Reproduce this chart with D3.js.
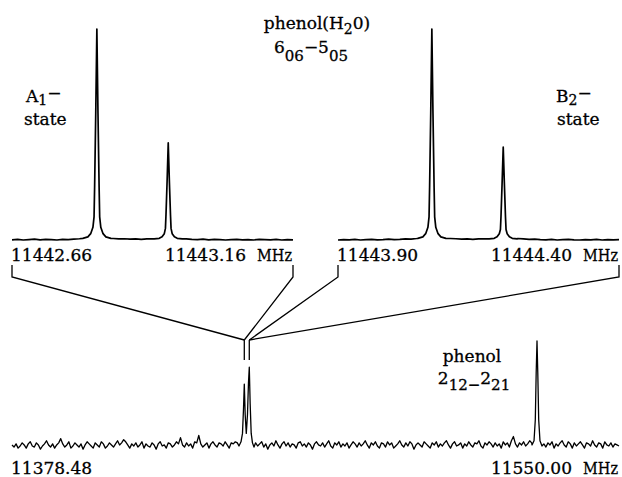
<!DOCTYPE html>
<html lang="en">
<head>
    <meta charset="UTF-8">
    <title>phenol(H2O) 6_06-5_05 spectrum</title>
    <script src="https://cdn.jsdelivr.net/npm/d3@7"></script>
    <style>
        body { margin: 0; background: #fff; }
        svg text { font-family: "DejaVu Serif", serif; font-size: 17px; fill: #000; stroke: #000; stroke-width: 0.3px; }
    </style>
</head>
<body>
    <div id="container"></div>

    <script>
        // --- data (intensity in arbitrary units, tallest line = 100) ---

        // top-left zoom: A1 state
        const a1Range = [11442.66, 11443.16]
        const a1Base = [0.1, 0.3, 0.0, 0.2, 0.4, 0.1, 0.3, 0.2, 0.0, 0.3,
            0.2, 0.4, 0.6, 0.9, 1.0, 1.0, 1.0, 0.9, 0.7, 0.5,
            0.6, 0.4, 0.5, 0.3, 0.5, 0.6, 0.8, 0.9, 0.9, 0.8,
            0.7, 0.5, 0.3, 0.2, 0.4, 0.1, 0.3, 0.2, 0.0, 0.2,
            0.3, 0.1, 0.2, 0.0, 0.3, 0.2, 0.1, 0.3, 0.0, 0.2, 0.1]
        const a1Strong = [[11442.786, 0.8], [11442.795, 1.5], [11442.800, 3], [11442.804, 6], [11442.806, 11],
            [11442.807, 25], [11442.809, 60], [11442.811, 100], [11442.813, 60], [11442.815, 25],
            [11442.816, 11], [11442.818, 6], [11442.822, 3], [11442.827, 1.5], [11442.836, 0.8]]
        const a1Weak = [[11442.913, 0.5], [11442.922, 0.8], [11442.927, 1.5], [11442.931, 3], [11442.933, 5.5],
            [11442.934, 12], [11442.936, 28], [11442.938, 46], [11442.940, 28], [11442.942, 12],
            [11442.943, 5.5], [11442.945, 3], [11442.949, 1.5], [11442.954, 0.8], [11442.963, 0.5]]

        // top-right zoom: B2 state
        const b2Range = [11443.90, 11444.40]
        const b2Base = [0.0, 0.2, 0.1, 0.3, 0.0, 0.2, 0.3, 0.1, 0.2, 0.4,
            0.2, 0.3, 0.5, 0.4, 0.7, 1.0, 1.0, 1.0, 1.0, 1.0,
            0.7, 0.6, 0.4, 0.5, 0.3, 0.5, 0.6, 0.8, 1.0, 1.0,
            1.0, 1.0, 0.7, 0.5, 0.3, 0.4, 0.2, 0.1, 0.3, 0.0,
            0.2, 0.3, 0.1, 0.0, 0.2, 0.1, 0.3, 0.0, 0.2, 0.1, 0.2]
        const b2Strong = [[11444.042, 0.8], [11444.051, 1.5], [11444.056, 3], [11444.060, 6], [11444.062, 11],
            [11444.063, 25], [11444.065, 60], [11444.067, 100], [11444.069, 60], [11444.071, 25],
            [11444.072, 11], [11444.074, 6], [11444.078, 3], [11444.083, 1.5], [11444.092, 0.8]]
        const b2Weak = [[11444.169, 0.5], [11444.178, 0.8], [11444.183, 1.5], [11444.187, 3], [11444.189, 5],
            [11444.190, 11], [11444.192, 27], [11444.194, 44], [11444.196, 27], [11444.198, 11],
            [11444.199, 5], [11444.201, 3], [11444.205, 1.5], [11444.210, 0.8], [11444.219, 0.5]]

        // bottom survey scan
        const surveyRange = [11378.48, 11550.00]
        const surveyNoise = [
            1, -1, 2, -2, 0, 3, 1, -2, 2, 4, 0, -1, 3, 1, -3, 0, 2, 5, 1, -1,
            2, -2, 1, 3, 7, 2, -1, 1, 4, -2, 0, 3, 1, -1, 2, -3, 1, 4, 2, 0,
            -2, 3, 1, -1, 4, 2, -2, 0, 3, 1, -1, 2, 5, 1, 3, 6, 4, 1, -2, 2,
            0, 3, -1, 1, 4, -2, 2, 0, -1, 3, 1, -3, 2, 4, 0, 1, -2, 3, 2, -1,
            1, 4, 2, 8, 1, -1, 3, 0, 2, -2, 4, 3, 10, 2, -1, 1, 3, -2, 2, 4,
            1, -1, 3, 2, 0, 4, 1, -2, 3, 2, 4, 3, 5, 4, 3, 3, 3, 3, 1, -2,
            3, 0, 2, 4, -1, 2, -3, 1, 3, 0, 5, 1, -2, 2, 4, 0, 3, -1, 2, 1,
            -2, 3, 4, 0, 2, -1, 3, 1, -3, 2, 4, 1, 0, 3, -1, 2, 5, 0, -2, 3,
            1, 4, -1, 2, 0, 3, -2, 1, 4, 2, -1, 3, 0, 2, 5, 1, -2, 3, 1, 4,
            0, -2, 3, 2, -1, 4, 1, 3, -2, 0, 2, 5, 1, -1, 3, 0, 4, 2, -3, 1,
            3, 1, -1, 4, 2, 0, -2, 3, 1, 4, -1, 2, 0, 3, 5, 1, -2, 2, 4, 0,
            1, 3, -2, 2, 0, 4, 1, -1, 3, 2, 5, 0, -2, 3, 1, 4, 2, -1, 3, 0,
            2, -2, 4, 1, 3, -1, 5, 9, 2, -1, 3, 1, 4, 0, 2, 5, 3, 2, 3, 3,
            3, 3, 2, -1, 3, 1, 4, -2, 2, 0, 3, 5, 1, -1, 4, 2, -2, 3, 0, 2,
            4, 1, -2, 3, 2, 0, 5, 1, -1, 3, 2, -2, 4, 1, 0, 3, -1, 2, 1, 0]
        // phenol(H2O) doublet (A1 + B2) and the phenol 2_12-2_21 line
        const complexPeaks = [[11442.62, 0], [11443.19, 4], [11443.61, 12], [11443.89, 35], [11444.12, 59],
            [11444.37, 30], [11444.68, 12], [11445.02, 30], [11445.30, 60], [11445.53, 75],
            [11445.78, 40], [11446.07, 12], [11446.43, 3], [11446.86, -1]]
        const phenolPeak = [[11525.42, 1], [11525.99, 5], [11526.35, 25], [11526.60, 70], [11526.83, 100],
            [11527.05, 70], [11527.31, 25], [11527.67, 5], [11528.24, 0]]
        // where the zoomed A1 / B2 lines sit in the survey scan
        const zoomMarks = [11444.12, 11445.53]

        // --- drawing ---
        const w = 622, h = 477
        const svg = d3.select("#container").append("svg").attr("width", w).attr("height", h)

        //baseline samples are evenly spaced over the range, peak points replace whatever is under them
        function trace(range, base, peaks) {
            const step = (range[1] - range[0]) / (base.length - 1)
            const spans = peaks.map(p => [p[0][0], p[p.length - 1][0]])
            const kept = base.map((v, i) => [range[0] + i * step, v])
                .filter(p => !spans.some(s => p[0] >= s[0] && p[0] <= s[1]))
            return kept.concat(...peaks).sort((a, b) => a[0] - b[0])
        }

        const xA1 = d3.scaleLinear(a1Range, [12, 293])
        const xB2 = d3.scaleLinear(b2Range, [338, 619])
        const yTop = d3.scaleLinear([0, 100], [240, 29])
        const xSurvey = d3.scaleLinear(surveyRange, [12, 619])
        const ySurvey = d3.scaleLinear([0, 100], [446, 341])

        const panels = [
            { x: xA1, y: yTop, data: trace(a1Range, a1Base, [a1Strong, a1Weak]), labelY: 261, sw: 1.7 },
            { x: xB2, y: yTop, data: trace(b2Range, b2Base, [b2Strong, b2Weak]), labelY: 261, sw: 1.7 },
            { x: xSurvey, y: ySurvey, data: trace(surveyRange, surveyNoise, [complexPeaks, phenolPeak]), labelY: 474, sw: 1.3 }
        ]
        const fmt = d3.format(".2f")

        panels.forEach(p => {
            const line = d3.line().x(d => p.x(d[0])).y(d => p.y(d[1]))
            svg.append("path").datum(p.data).attr("d", line)
                .attr("fill", "none").attr("stroke", "#000").attr("stroke-width", p.sw)
                .attr("stroke-linejoin", "round")
            const [d0, d1] = p.x.domain()
            svg.append("text").attr("x", p.x(d0) - 1).attr("y", p.labelY).text(fmt(d0))
            svg.append("text").attr("x", p.x(d1) - 47).attr("y", p.labelY).attr("text-anchor", "end").text(fmt(d1))
            svg.append("text").attr("x", p.x(d1) - 1).attr("y", p.labelY).attr("text-anchor", "end")
                .attr("textLength", 35).attr("lengthAdjust", "spacingAndGlyphs").text("MHz")
        })

        // connectors from each zoom window down to its line in the survey
        const conn = svg.append("g").attr("fill", "none").attr("stroke", "#000").attr("stroke-width", 1.3)
        ;[xA1, xB2].forEach((sc, i) => {
            const xm = xSurvey(zoomMarks[i])
            sc.domain().forEach(v => {
                conn.append("polyline").attr("points", `${sc(v)},265 ${sc(v)},277 ${xm},340`)
            })
            conn.append("line").attr("x1", xm).attr("x2", xm).attr("y1", 340).attr("y2", 360)
        })

        // labels
        const sub = (t, s, dy, size) => t.append("tspan").attr("dy", dy).attr("font-size", size).text(s)

        let t = svg.append("text").attr("x", 317).attr("y", 29).attr("text-anchor", "middle").text("phenol(H")
        sub(t, "2", 5, 14); sub(t, "0)", -5, 17)

        t = svg.append("text").attr("x", 311).attr("y", 53).attr("text-anchor", "middle").text("6")
        sub(t, "06", 8, 15); sub(t, "\u22125", -8, 17); sub(t, "05", 8, 15)

        t = svg.append("text").attr("x", 26).attr("y", 102).text("A")
        sub(t, "1", 3, 14); sub(t, "\u2212", -6, 17)
        svg.append("text").attr("x", 24).attr("y", 125).text("state")

        t = svg.append("text").attr("x", 556).attr("y", 102).text("B")
        sub(t, "2", 3, 14); sub(t, "\u2212", -6, 17)
        svg.append("text").attr("x", 557).attr("y", 125).text("state")

        svg.append("text").attr("x", 472).attr("y", 362).attr("text-anchor", "middle").text("phenol")
        t = svg.append("text").attr("x", 474).attr("y", 384).attr("text-anchor", "middle").text("2")
        sub(t, "12\u2212", 6, 15); sub(t, "2", -6, 17); sub(t, "21", 6, 15)
    </script>
</body>
</html>
